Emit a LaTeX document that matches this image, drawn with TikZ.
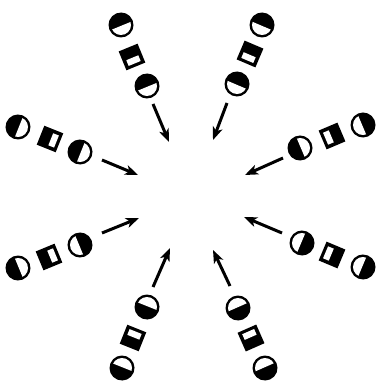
\documentclass[tikz,border=0pt]{standalone}
\usetikzlibrary{arrows.meta}
\tikzset{
  flow/.style={line width=3pt, -{Stealth[length=13pt,width=10pt,inset=3.5pt]}},
}
% circle: black on the outer side, white on side #3 (1 = toward centre, -1 = away)
\newcommand\discsym[3]{%
  \begin{scope}[shift={(#1)}, rotate=#2]
    \fill[black] (0,0) circle[radius=12.5pt];
    \begin{scope}
      \clip ({#3*0.8pt},-20pt) rectangle ({#3*20pt},20pt);
      \fill[white] (0,0) circle[radius=10pt];
    \end{scope}
  \end{scope}}
% square with white window toward the centre
\newcommand\squaresym[2]{%
  \begin{scope}[shift={(#1)}, rotate=#2]
    \fill[black] (-10.2pt,-10.2pt) rectangle (10.2pt,10.2pt);
    \fill[white] (0.8pt,-6.5pt) rectangle (7pt,6.5pt);
  \end{scope}}
% one ray: name, outer circle, square, inner circle, arrow start, arrow tip, white side of inner circle
\newcommand\raysym[7]{%
  \coordinate (#1o) at #2;
  \coordinate (#1s) at #3;
  \coordinate (#1i) at #4;
  \coordinate (#1a) at #5;
  \coordinate (#1t) at #6;
  \pgfmathanglebetweenpoints{\pgfpointanchor{#1o}{center}}{\pgfpointanchor{#1t}{center}}%
  \let\rayang\pgfmathresult
  \discsym{#1o}{\rayang}{1}
  \squaresym{#1s}{\rayang}
  \discsym{#1i}{\rayang}{#7}
  \draw[flow] (#1a) -- (#1t);
}
\begin{document}
\begin{tikzpicture}[x=1pt,y=-1pt]
  \useasboundingbox (0,0) rectangle (376,387);
  \raysym{tl}{(121,25)}{(132,57)}{(147,86)}{(153,104)}{(169,142)}{1}
  \raysym{tr}{(262,25)}{(250,54)}{(237,84)}{(227,103)}{(213,140)}{1}
  \raysym{lu}{(18,127)}{(50,139)}{(80,152)}{(102,160)}{(138,175)}{1}
  \raysym{ru}{(363,125)}{(332,136)}{(300,148)}{(283,158)}{(245,175)}{-1}
  \raysym{ll}{(18,268)}{(49,257)}{(80,245)}{(102,233)}{(139,218)}{-1}
  \raysym{rl}{(363,267)}{(332,255)}{(302,243)}{(282,233)}{(244,217)}{1}
  \raysym{bl}{(122,368)}{(133,338)}{(147,307)}{(153,287)}{(170,248)}{1}
  \raysym{br}{(265,368)}{(251,338)}{(238,308)}{(230,286)}{(213,250)}{1}
\end{tikzpicture}
\end{document}
